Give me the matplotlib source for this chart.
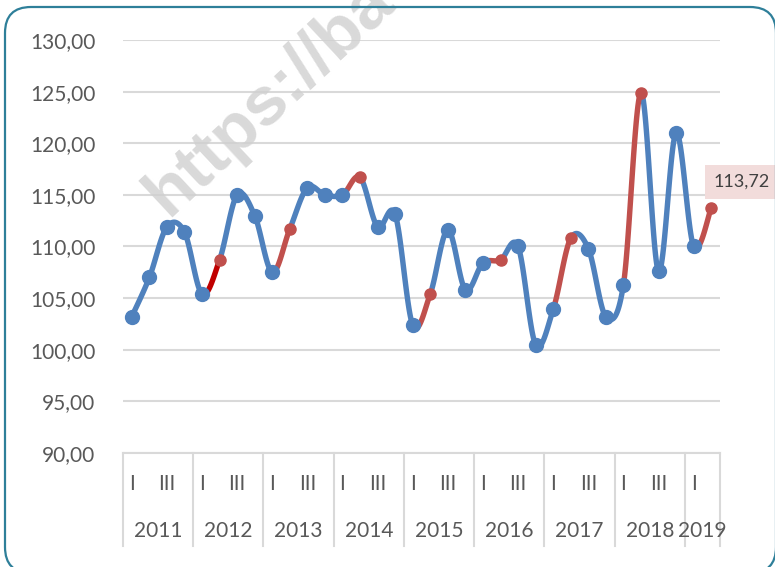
import numpy as np
import matplotlib
matplotlib.use("Agg")
import matplotlib.pyplot as plt
import matplotlib.transforms as mtrans
from matplotlib.patches import FancyBboxPatch
from matplotlib.lines import Line2D

# quarterly index values, 2011 Q1 .. 2019 Q2
years = ["2011", "2012", "2013", "2014", "2015", "2016", "2017", "2018", "2019"]
quarters_per_year = [4, 4, 4, 4, 4, 4, 4, 4, 2]
values = [103.2, 107.0, 111.9, 111.4,
          105.4, 108.7, 115.0, 113.0,
          107.5, 111.7, 115.7, 115.0,
          115.0, 116.7, 111.9, 113.1,
          102.4, 105.4, 111.6, 105.8,
          108.4, 108.7, 110.0, 100.5,
          103.9, 110.8, 109.8, 103.2,
          106.3, 124.9, 107.6, 121.0,
          110.0, 113.72]
# second quarters from 2012 on are highlighted in red
red_points = [5, 9, 13, 17, 21, 25, 29, 33]
yticks = [90, 95, 100, 105, 110, 115, 120, 125, 130]

BLUE = "#4F81BD"
RED = "#C0504D"
DARKRED = "#C00000"
GRID = "#D9D9D9"
TXT = "#595959"
FONT = "Lato"

W, H = 775, 567
fig = plt.figure(figsize=(W / 100, H / 100), dpi=100)
ax = fig.add_axes([123 / W, 1 - 453 / H, (720 - 123) / W, (453 - 40) / H])

x = np.arange(len(values))
y = np.array(values)


def bezier_seg(i, n=30):
    # excel-like smoothing: catmull-rom as cubic bezier
    p0 = np.array([x[max(i - 1, 0)], y[max(i - 1, 0)]])
    p1 = np.array([x[i], y[i]])
    p2 = np.array([x[i + 1], y[i + 1]])
    p3 = np.array([x[min(i + 2, len(x) - 1)], y[min(i + 2, len(x) - 1)]])
    c1 = p1 + (p2 - p0) / 6
    c2 = p2 - (p3 - p1) / 6
    t = np.linspace(0, 1, n)[:, None]
    pts = ((1 - t) ** 3) * p1 + 3 * ((1 - t) ** 2) * t * c1 + 3 * (1 - t) * t ** 2 * c2 + t ** 3 * p2
    return pts[:, 0], pts[:, 1]


for i in range(len(values) - 1):
    sx, sy = bezier_seg(i)
    if i + 1 in red_points:
        col = DARKRED if i + 1 == red_points[0] else RED
        ax.plot(sx, sy, color=col, lw=3.9, solid_capstyle="round", zorder=3)
    else:
        ax.plot(sx, sy, color=BLUE, lw=3.9, solid_capstyle="round", zorder=2)

is_red = np.isin(x, red_points)
ax.plot(x[~is_red], y[~is_red], "o", color=BLUE, ms=10, mec=BLUE, zorder=4)
ax.plot(x[is_red], y[is_red], "o", color=RED, ms=8, mec=RED, zorder=5)

ax.set_xlim(-0.5, len(values) - 0.5)
ax.set_ylim(90, 130)
ax.set_yticks(yticks)
ax.set_yticklabels([f"{v:.2f}".replace(".", ",") for v in yticks],
                   fontsize=15, color=TXT, fontfamily=FONT)
ax.tick_params(axis="y", length=0, pad=20)
ax.set_xticks([])
ax.grid(axis="y", color=GRID, lw=1.5)
ax.set_axisbelow(True)
for s in ["top", "right", "left"]:
    ax.spines[s].set_visible(False)
ax.spines["bottom"].set_color(GRID)
ax.spines["bottom"].set_linewidth(1.5)

# two-level category axis
tr = mtrans.blended_transform_factory(ax.transData, fig.transFigure)
start = 0
bounds = [-0.5]
for yr, nq in zip(years, quarters_per_year):
    for q in range(nq):
        if q in (0, 2):
            fig.text(start + q, 1 - 484 / H, "I" if q == 0 else "III", transform=tr,
                     ha="center", va="center", fontsize=15, color=TXT, fontfamily=FONT)
    fig.text(start + (nq - 1) / 2, 1 - 531 / H, yr, transform=tr,
             ha="center", va="center", fontsize=15, color=TXT, fontfamily=FONT)
    start += nq
    bounds.append(start - 0.5)
for b in bounds:
    fig.add_artist(Line2D([b, b], [1 - 453 / H, 1 - 546 / H], transform=tr,
                          color=GRID, lw=1.5))

# last value label
ax.annotate(f"{values[-1]:.2f}".replace(".", ","), (x[-1], y[-1]),
            xytext=(2, 19), textcoords="offset points", ha="left", va="center",
            fontsize=13, color="#404040", fontfamily=FONT, annotation_clip=False,
            bbox=dict(boxstyle="square,pad=0.5", fc="#F2DCDB", ec="none"), zorder=6)

# watermark
ax.text(168 / W, 1 - 218 / H, "https://ba", transform=fig.transFigure,
        rotation=43, rotation_mode="anchor", ha="left", va="baseline",
        fontsize=50, fontweight="bold", color="#D0D0D0", alpha=0.8,
        fontfamily="Liberation Sans", clip_on=False, zorder=1.5)

# rounded chart border
fig.add_artist(FancyBboxPatch((5, -6), 771, H - 7 + 6,
                              boxstyle="round,pad=0,rounding_size=26",
                              transform=mtrans.IdentityTransform(),
                              fc="none", ec="#2E7F99", lw=1.6))

fig.savefig("out.png", dpi=100)
